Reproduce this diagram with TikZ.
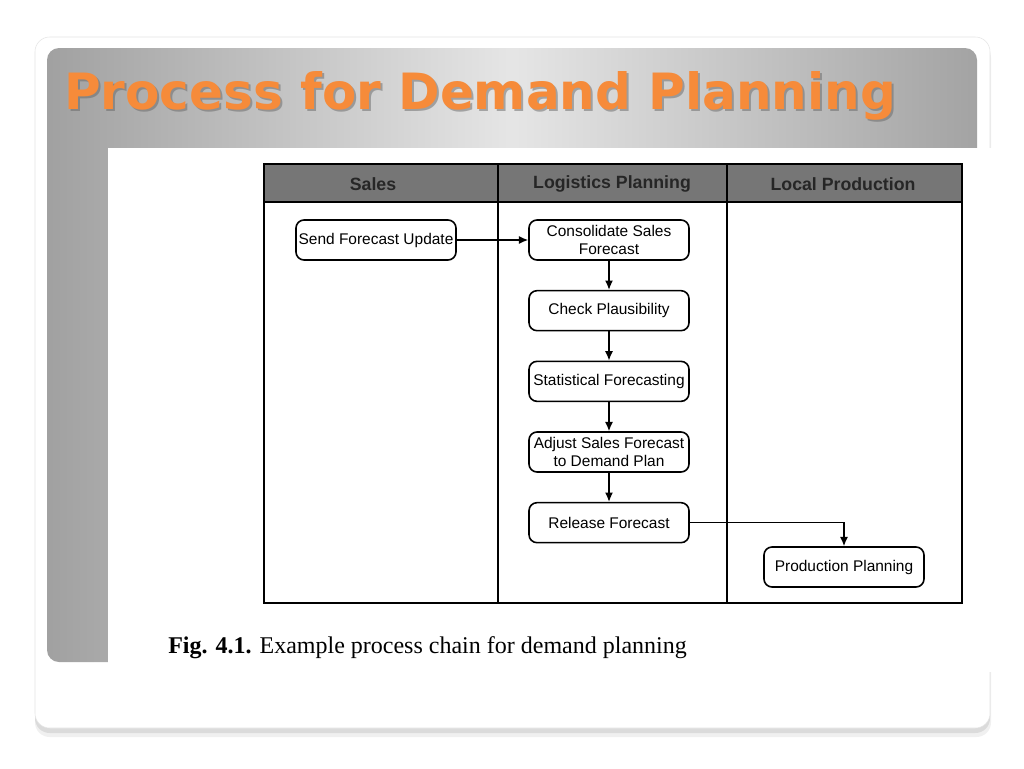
\documentclass[tikz,border=0pt]{standalone}
\usepackage{fontspec}
\setmainfont{Liberation Serif}
\setsansfont{Liberation Sans}
\newfontfamily\titlefont{DejaVu Sans}
\usetikzlibrary{positioning,arrows.meta}
\definecolor{titleorange}{RGB}{246,139,58}
\definecolor{lanegray}{RGB}{118,118,118}
\begin{document}
\begin{tikzpicture}[x=0.75pt, y=-0.75pt, node distance={53pt},
		proc/.style = {draw, line width=1.2pt, rounded corners=6pt, minimum width=120pt, minimum height=30pt, align=center, inner sep=1pt, font=\sffamily\fontsize{11.6pt}{13pt}\selectfont},
		lane/.style = {font=\sffamily\bfseries\fontsize{13.3pt}{15pt}\selectfont, text=black!85},
		>={Latex[length=7pt, width=6pt]}]
		\useasboundingbox[fill=white] (0,0) rectangle (1024,768);
		% card with its shadow
		\fill[black!6, rounded corners=11pt] (35,43) rectangle (991,737);
		\fill[black!14, rounded corners=11pt] (35,41) rectangle (990,733);
		\fill[white, draw=black!10, rounded corners=11pt] (35,37) rectangle (990,728);
		\shade[rounded corners=9pt, left color=black!37, right color=black!36, middle color=black!10] (47,48) rectangle (977,662);
		% title
		\node[anchor=base west, text=black!60, opacity=0.5, inner sep=0pt, font=\titlefont\bfseries\fontsize{37.5pt}{40pt}\selectfont] (titleshadow) at (66,111) {Process for Demand Planning};
		\node[anchor=base west, text=titleorange, inner sep=0pt, font=\titlefont\bfseries\fontsize{37.5pt}{40pt}\selectfont] (title) at (64,109) {Process for Demand Planning};
		% scanned figure
		\fill[white] (108,148) rectangle (992,672);
		\fill[lanegray] (264,164) rectangle (962,202);
		\draw[line width=1.5pt] (264,164) rectangle (962,603);
		\draw[line width=1.5pt] (264,202) -- (962,202);
		\draw[line width=1.5pt] (498,164) -- (498,603);
		\draw[line width=1.5pt] (727,164) -- (727,603);
		\node[lane] (sales) at (373,184) {Sales};
		\node[lane] (logistics) at (612,184) {Logistics Planning};
		\node[lane] (local) at (843,184) {Local Production};
		\node[proc] (send) at (376,240) {Send Forecast Update};
		\node[proc] (consol) at (609,240) {Consolidate Sales\\Forecast};
		\node[proc] (check) [below of=consol] {Check Plausibility};
		\node[proc] (stat) [below of=check] {Statistical Forecasting};
		\node[proc] (adjust) [below of=stat] {Adjust Sales Forecast\\to Demand Plan};
		\node[proc] (release) [below of=adjust] {Release Forecast};
		\node[proc] (prod) at (844,567) {Production Planning};
		\draw[->, line width=1pt] (send) to (consol);
		\draw[->, line width=1pt] (consol) to (check);
		\draw[->, line width=1pt] (check) to (stat);
		\draw[->, line width=1pt] (stat) to (adjust);
		\draw[->, line width=1pt] (adjust) to (release);
		\draw[->, line width=1pt] (release) -| (prod);
		\node[anchor=base west, inner sep=0pt, font=\fontsize{18pt}{20pt}\selectfont] (caption) at (168,653) {\textbf{Fig. 4.1.} Example process chain for demand planning};

	\end{tikzpicture}
\end{document}
